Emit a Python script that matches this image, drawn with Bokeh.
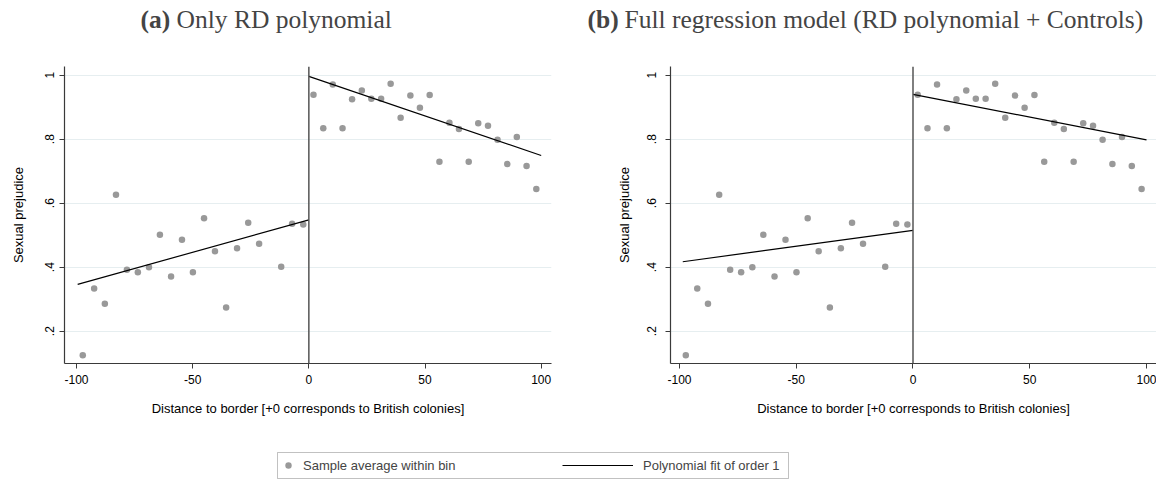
import math
from bokeh.plotting import figure
from bokeh.models import Range1d, Span, Label, Legend, LegendItem, BoxAnnotation, FixedTicker
from bokeh.layouts import column, row
from bokeh.embed import file_html
from bokeh.resources import INLINE

# ---------------- data ----------------
bin_x_left = [-97.3, -92.4, -87.8, -83.0, -78.3, -73.6, -68.8, -64.1, -59.3, -54.6,
              -49.9, -45.1, -40.4, -35.6, -30.9, -26.1, -21.4, -11.9, -7.2, -2.4]
bin_y_left = [0.125, 0.333, 0.286, 0.626, 0.392, 0.384, 0.400, 0.501, 0.371, 0.486,
              0.384, 0.553, 0.450, 0.274, 0.459, 0.539, 0.473, 0.401, 0.536, 0.533]
bin_x_right = [2.0, 6.2, 10.3, 14.5, 18.6, 22.8, 26.9, 31.1, 35.2, 39.5, 43.7, 47.8,
               52.0, 56.2, 60.5, 64.6, 68.8, 72.9, 77.1, 81.2, 85.4, 89.5, 93.7, 97.9]
bin_y_right = [0.939, 0.834, 0.971, 0.834, 0.925, 0.952, 0.926, 0.926, 0.973, 0.867, 0.936, 0.898,
               0.938, 0.729, 0.851, 0.832, 0.729, 0.850, 0.842, 0.798, 0.722, 0.807, 0.716, 0.644]

# fitted order-1 polynomials: panel (a) and panel (b)
fit_a_left_x = [-99.5, 0.0]
fit_a_left_y = [0.346, 0.548]
fit_a_right_x = [0.0, 100.0]
fit_a_right_y = [0.996, 0.749]
fit_b_left_x = [-98.6, 0.0]
fit_b_left_y = [0.417, 0.515]
fit_b_right_x = [0.0, 100.0]
fit_b_right_y = [0.940, 0.798]

x_ticks = [-100, -50, 0, 50, 100]
x_tick_labels = ["-100", "-50", "0", "50", "100"]
y_ticks = [0.2, 0.4, 0.6, 0.8, 1.0]
y_tick_labels = [".2", ".4", ".6", ".8", "1"]

panel_tags = ["(a)", "(b)"]
panel_titles = ["Only RD polynomial", "Full regression model (RD polynomial + Controls)"]
x_title = "Distance to border [+0 corresponds to British colonies]"
y_title = "Sexual prejudice"
legend_labels = ["Sample average within bin", "Polynomial fit of order 1"]

# ---------------- styling ----------------
SANS = "Liberation Sans"
SERIF = "Liberation Serif"
DOT = "#999999"
GRID = "#e6eef0"
AXIS = "#3a3a3a"

TOTAL_W = 1156
HEAD_H = 48
PLOT_H = 370
LEG_H = 64


def make_panel(width, border_left, border_right, xr, fl_x, fl_y, fr_x, fr_y, tick_std, title_std):
    p = figure(width=width, height=PLOT_H, x_range=Range1d(*xr), y_range=Range1d(0.099, 1.027),
               output_backend="svg", toolbar_location=None,
               min_border_left=border_left, min_border_right=border_right,
               min_border_top=18, min_border_bottom=55)
    p.outline_line_color = None
    p.background_fill_color = "white"
    p.border_fill_color = "white"
    p.xgrid.visible = False
    p.ygrid.ticker = FixedTicker(ticks=y_ticks)
    p.ygrid.grid_line_color = GRID
    p.ygrid.grid_line_width = 1

    p.xaxis.ticker = FixedTicker(ticks=x_ticks)
    p.xaxis.major_label_overrides = dict(zip(x_ticks, x_tick_labels))
    p.yaxis.ticker = FixedTicker(ticks=y_ticks)
    p.yaxis.major_label_overrides = dict(zip(y_ticks, y_tick_labels))
    p.yaxis.major_label_orientation = "vertical"

    for ax in (p.xaxis[0], p.yaxis[0]):
        ax.axis_line_color = AXIS
        ax.axis_line_width = 1.2
        ax.major_tick_line_color = AXIS
        ax.major_tick_in = 0
        ax.major_tick_out = 5
        ax.minor_tick_line_color = None
        ax.major_label_text_font = SANS
        ax.major_label_text_font_size = "12px"
        ax.major_label_text_color = "black"
        ax.axis_label_text_font = SANS
        ax.axis_label_text_font_size = "13px"
        ax.axis_label_text_font_style = "normal"
        ax.axis_label_text_color = "black"
    p.xaxis.major_label_standoff = 6
    p.xaxis.axis_label_standoff = 14
    p.yaxis.major_label_standoff = tick_std
    p.yaxis.axis_label_standoff = title_std
    p.xaxis.axis_label = x_title
    p.yaxis.axis_label = y_title

    p.add_layout(Span(location=0, dimension="height", line_color="#555555", line_width=1.5))
    p.scatter(bin_x_left, bin_y_left, size=6.5, color=DOT, line_color=None)
    p.scatter(bin_x_right, bin_y_right, size=6.5, color=DOT, line_color=None)
    p.line(fl_x, fl_y, line_color="black", line_width=1.2)
    p.line(fr_x, fr_y, line_color="black", line_width=1.2)
    return p


p1 = make_panel(608, 64, 57, (-105.16, 104.43), fit_a_left_x, fit_a_left_y,
                fit_a_right_x, fit_a_right_y, 5, 17)
p2 = make_panel(548, 62, 0, (-103.85, 104.28), fit_b_left_x, fit_b_left_y,
                fit_b_right_x, fit_b_right_y, 9, 13)

# ---------------- header with panel captions ----------------
head = figure(width=TOTAL_W, height=HEAD_H, x_range=Range1d(0, TOTAL_W), y_range=Range1d(0, HEAD_H),
              output_backend="svg", toolbar_location=None, min_border=0)
head.axis.visible = False
head.grid.visible = False
head.outline_line_color = None
tag_x = [140, 587]
title_x = [176, 624]
for tx, tt, lx, lt in zip(tag_x, panel_tags, title_x, panel_titles):
    head.add_layout(Label(x=tx, y=29, text=tt, text_font=SERIF, text_font_size="25.5px",
                          text_font_style="bold", text_baseline="middle", text_align="left"))
    head.add_layout(Label(x=lx, y=29, text=lt, text_font=SERIF, text_font_size="25.5px",
                          text_baseline="middle", text_align="left"))

# ---------------- legend strip ----------------
lf = figure(width=TOTAL_W, height=LEG_H, x_range=Range1d(0, TOTAL_W), y_range=Range1d(0, LEG_H),
            output_backend="svg", toolbar_location=None, min_border=0)
lf.axis.visible = False
lf.grid.visible = False
lf.outline_line_color = None
nan = float("nan")
r_dot = lf.scatter(x=[nan], y=[nan], size=6.5, color=DOT, line_color=None)
r_line = lf.line(x=[nan, nan], y=[nan, nan], line_color="black", line_width=1.2)

common = dict(padding=0, margin=0, border_line_alpha=0, background_fill_alpha=0,
              label_text_font=SANS, label_text_font_size="13px", label_height=26, glyph_height=16,
              orientation="horizontal")
leg1 = Legend(items=[LegendItem(label=legend_labels[0], renderers=[r_dot])],
              location=(280, 4), glyph_width=16, label_standoff=7, **common)
leg2 = Legend(items=[LegendItem(label=legend_labels[1], renderers=[r_line])],
              location=(562, 4), glyph_width=71, label_standoff=10, **common)
lf.add_layout(leg1)
lf.add_layout(leg2)
lf.add_layout(BoxAnnotation(left=277, right=788, bottom=4, top=30, fill_alpha=0,
                            line_color="#333333", line_width=1))

layout = column(head, row(p1, p2), lf)
open("out.html", "w").write(file_html(layout, INLINE))
